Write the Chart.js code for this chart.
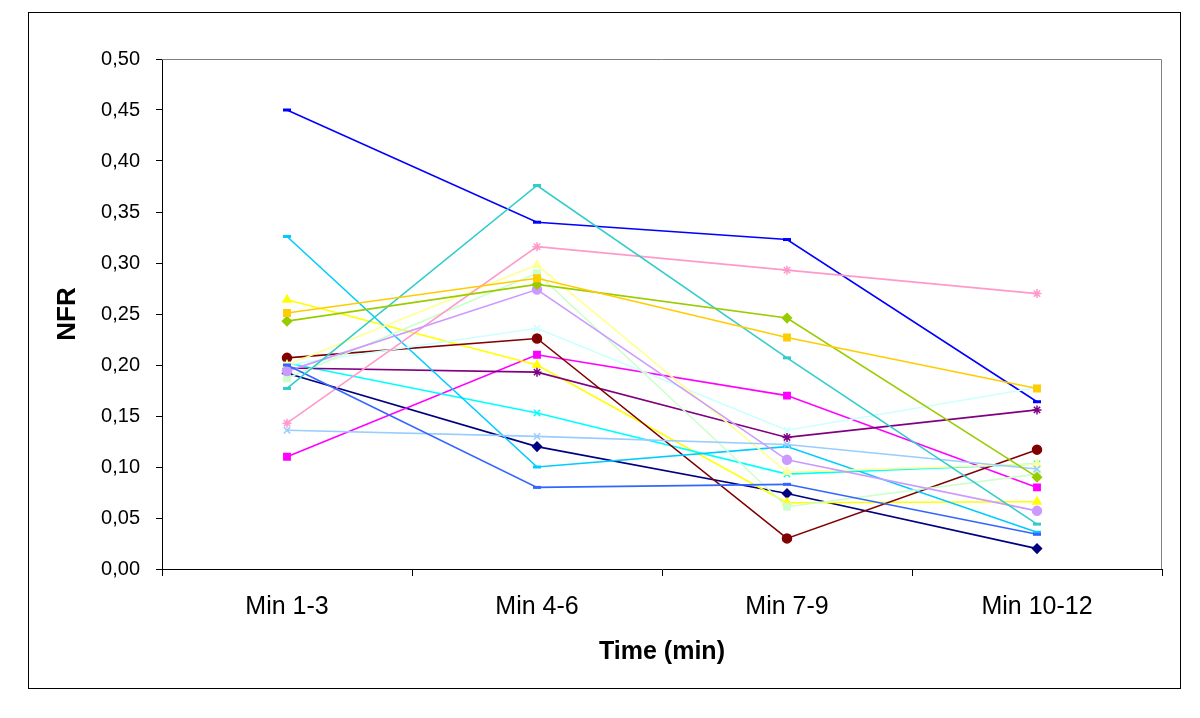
<!DOCTYPE html>
<html>
<head>
<meta charset="utf-8">
<script src="https://cdn.jsdelivr.net/npm/chart.js@4.4.1/dist/chart.umd.min.js"></script>
<style>
  body { margin: 0; background: #fff; }
  #wrap { position: relative; width: 1200px; height: 718px; }
  #frame { position: absolute; left: 28px; top: 12px; width: 1151px; height: 675px; border: 1px solid #000; }
  canvas { position: absolute; left: 0; top: 0; }
</style>
</head>
<body>
<div id="wrap">
  <div id="frame"></div>
  <canvas id="canvas" width="1200" height="718"></canvas>
</div>
<script>
var categories = ['Min 1-3', 'Min 4-6', 'Min 7-9', 'Min 10-12'];
var yTicks = [0, 0.05, 0.10, 0.15, 0.20, 0.25, 0.30, 0.35, 0.40, 0.45, 0.50];

// one array per subject (series)
var s1  = [0.192, 0.120, 0.074, 0.020];
var s2  = [0.110, 0.210, 0.170, 0.080];
var s3  = [0.264, 0.200, 0.065, 0.066];
var s4  = [0.202, 0.153, 0.093, 0.103];
var s5  = [0.197, 0.193, 0.129, 0.156];
var s6  = [0.207, 0.226, 0.030, 0.117];
var s7  = [0.450, 0.340, 0.323, 0.164];
var s8  = [0.326, 0.100, 0.120, 0.036];
var s9  = [0.200, 0.236, 0.136, 0.178];
var s10 = [0.187, 0.290, 0.061, 0.093];
var s11 = [0.200, 0.298, 0.095, 0.103];
var s12 = [0.136, 0.130, 0.122, 0.098];
var s13 = [0.143, 0.316, 0.293, 0.270];
var s14 = [0.194, 0.274, 0.107, 0.057];
var s15 = [0.200, 0.080, 0.083, 0.034];
var s16 = [0.177, 0.376, 0.207, 0.044];
var s17 = [0.243, 0.279, 0.246, 0.090];
var s18 = [0.251, 0.285, 0.227, 0.177];

var seriesData = [s1, s2, s3, s4, s5, s6, s7, s8, s9, s10, s11, s12, s13, s14, s15, s16, s17, s18];
var seriesColors = ['#000080', '#FF00FF', '#FFFF00', '#00FFFF', '#800080', '#800000', '#0000FF', '#00CCFF',
    '#CCFFFF', '#CCFFCC', '#FFFF99', '#99CCFF', '#FF99CC', '#CC99FF', '#3366FF', '#33CCCC', '#99CC00', '#FFCC00'];
var seriesMarkers = ['rectRot', 'rect', 'triangle', 'crossRot', 'star', 'circle', 'line', 'line',
    'crossRot', 'rect', 'triangle', 'crossRot', 'star', 'circle', 'line', 'line', 'rectRot', 'rect'];

var datasets = seriesData.map(function (d, i) {
    return {
        label: 'S' + (i + 1),
        data: d,
        borderColor: seriesColors[i],
        backgroundColor: seriesColors[i],
        pointStyle: seriesMarkers[i],
        pointRadius: seriesMarkers[i] == 'line' ? 4 : 4.5,
        pointBorderWidth: seriesMarkers[i] == 'line' ? 3 : 1.5,
        borderWidth: 1.6,
        fill: false,
        tension: 0,
        order: seriesData.length - i
    };
});

// gray frame on top/right of plot area
var plotFrame = {
    id: 'plotFrame',
    beforeDatasetsDraw: function (chart) {
        var a = chart.chartArea, ctx = chart.ctx;
        ctx.save();
        ctx.strokeStyle = '#808080';
        ctx.lineWidth = 1;
        ctx.beginPath();
        ctx.moveTo(a.left, a.top + 0.5);
        ctx.lineTo(a.right - 0.5, a.top + 0.5);
        ctx.lineTo(a.right - 0.5, a.bottom);
        ctx.stroke();
        ctx.restore();
    }
};

var config = {
    type: 'line',
    data: { labels: categories, datasets: datasets },
    plugins: [plotFrame],
    options: {
        responsive: false,
        animation: false,
        layout: { padding: { left: 48, right: 38, top: 59, bottom: 47 } },
        plugins: { legend: { display: false }, tooltip: { enabled: false } },
        scales: {
            x: {
                offset: true,
                grid: { offset: true, drawOnChartArea: false, drawTicks: true, tickLength: 7, color: '#000' },
                border: { color: '#000', width: 1 },
                ticks: { color: '#000', font: { family: 'Liberation Sans', size: 25 }, padding: 16 },
                title: { display: true, text: 'Time (min)', color: '#000', font: { family: 'Liberation Sans', size: 25, weight: 'bold' }, padding: { top: 14 } },
                afterFit: function (s) { s.height = 102; }
            },
            y: {
                min: 0,
                max: 0.5,
                afterBuildTicks: function (s) { s.ticks = yTicks.map(function (v) { return { value: v }; }); },
                grid: { drawOnChartArea: false, drawTicks: true, tickLength: 6, color: '#000' },
                border: { color: '#000', width: 1 },
                ticks: {
                    color: '#000',
                    font: { family: 'Liberation Sans', size: 20 },
                    padding: 16,
                    callback: function (v) { return v.toFixed(2).replace('.', ','); }
                },
                title: { display: true, text: 'NFR', color: '#000', font: { family: 'Liberation Sans', size: 26, weight: 'bold' }, padding: { bottom: 0 } },
                afterFit: function (s) { s.width = 114; }
            }
        }
    }
};

var ctx = document.getElementById('canvas').getContext('2d');
window.myLine = new Chart(ctx, config);
</script>
</body>
</html>
